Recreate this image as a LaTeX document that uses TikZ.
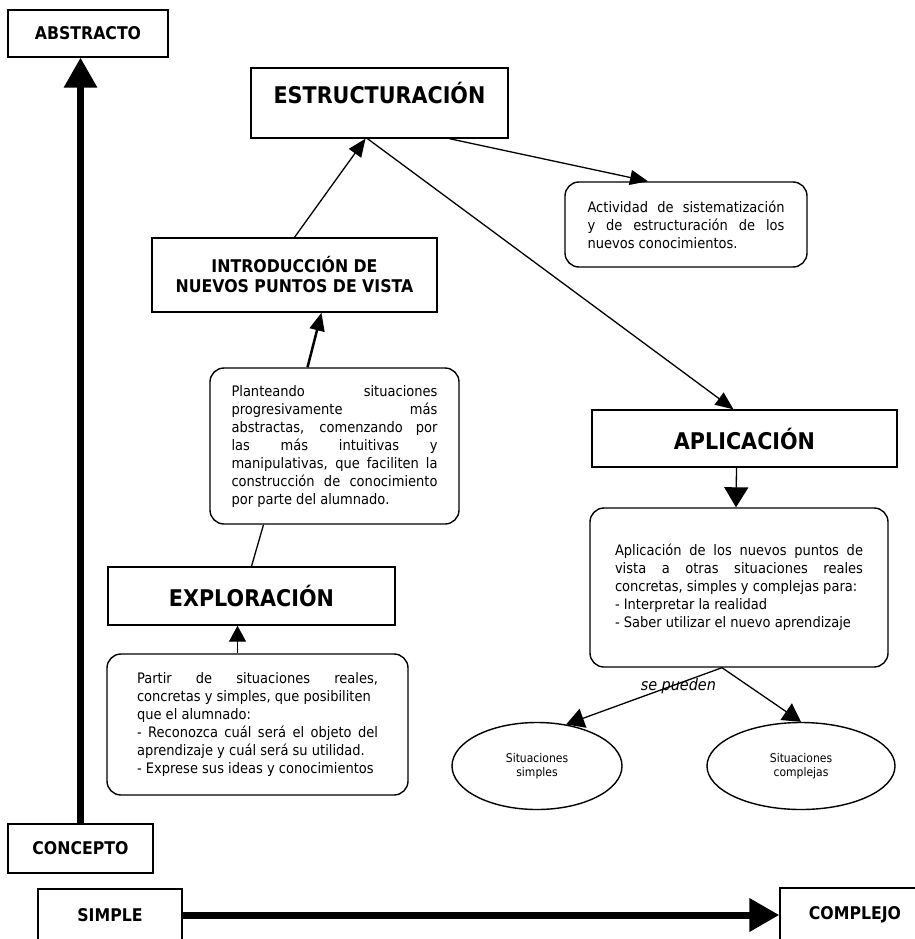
\documentclass[tikz,border=0pt]{standalone}
\usepackage{fontspec}
\setmainfont{DejaVu Sans}[FakeStretch=0.9]
\usetikzlibrary{arrows.meta,shapes.geometric}
\tolerance=10000
\hyphenpenalty=10000

\begin{document}
\begin{tikzpicture}[
    x=1pt, y=-1pt,
    every node/.style={inner sep=0pt},
    stage/.style={draw, line width=1.4pt, font=\bfseries\fontsize{23}{26}\selectfont},
    axisbox/.style={draw, line width=1.4pt, font=\bfseries\fontsize{17.5}{20}\selectfont},
    note/.style={draw, line width=1.4pt, rounded corners=14pt, align=justify, font=\fontsize{14.5}{18}\selectfont},
    oval/.style={draw, ellipse, line width=1.4pt, align=center, font=\fontsize{12}{13.5}\selectfont},
    arrow/.style={-{Triangle[length=18pt,width=15pt]}, line width=1.3pt},
    axis/.style={-{Triangle[length=30pt,width=32pt]}, line width=6.5pt}
  ]
  \useasboundingbox (0,0) rectangle (914,939);

  \node[axisbox, minimum width=160pt, minimum height=47pt] (abstracto) at (88,33.5) {ABSTRACTO};
  \node[axisbox, minimum width=145pt, minimum height=49pt] (concepto) at (80.5,848.5) {CONCEPTO};
  \node[axisbox, minimum width=144pt, minimum height=52pt] (simple) at (110,915) {SIMPLE};
  \node[axisbox, minimum width=150pt, minimum height=53pt] (complejo) at (855,914.5) {COMPLEJO};

  \node[stage, minimum width=257pt, minimum height=70pt, text height=12pt, text depth=12pt] (estruc) at (379.5,103) {ESTRUCTURACIÓN};
  \node[stage, align=center, minimum width=285pt, minimum height=74pt, font=\bfseries\fontsize{17.5}{20}\selectfont] (intro) at (294.5,275) {INTRODUCCIÓN DE\\NUEVOS PUNTOS DE VISTA};
  \node[stage, minimum width=287pt, minimum height=58pt] (explor) at (251.5,596) {EXPLORACIÓN};
  \node[stage, minimum width=305pt, minimum height=57pt] (aplic) at (744.5,438.5) {APLICACIÓN};

  \node[note, text width=197pt, minimum width=242pt, minimum height=85pt] (activ) at (686,224.5) {Actividad de sistematización\linebreak y de estructuración de los\linebreak nuevos conocimientos.};
  \node[note, text width=206pt, minimum width=249pt, minimum height=156pt] (plant) at (334.5,446) {Planteando situaciones\linebreak progresivamente más\linebreak abstractas, comenzando por\linebreak las más intuitivas y\linebreak manipulativas, que faciliten la\linebreak construcción de conocimiento\linebreak por parte del alumnado.};
  \node[note, text width=241pt, minimum width=301pt, minimum height=141pt] (partir) at (257.5,724.5) {Partir de situaciones reales,\linebreak concretas y simples, que posibiliten\\ que el alumnado:\\ - Reconozca cuál será el objeto del\linebreak aprendizaje y cuál será su utilidad.\\ - Exprese sus ideas y conocimientos};
  \node[note, text width=248pt, minimum width=298pt, minimum height=159pt] (aplbox) at (739,587.5) {Aplicación de los nuevos puntos de\linebreak vista a otras situaciones reales\linebreak concretas, simples y complejas para:\\ - Interpretar la realidad\\ - Saber utilizar el nuevo aprendizaje\par\vspace*{28pt}};

  \node[oval, minimum width=170pt, minimum height=87pt] (simples) at (537,766) {Situaciones\\simples};
  \node[oval, minimum width=188pt, minimum height=87pt] (complejas) at (801,766) {Situaciones\\complejas};

  \draw[axis] (concepto.north) -- (concepto.north |- abstracto.south);
  \draw[axis, line width=7pt] (simple.east) -- (simple.east -| complejo.west);

  \draw[arrow] (intro.north) -- ([xshift=-14pt]estruc.south);
  \draw[arrow] ([xshift=-12pt]estruc.south) -- ([xshift=-11pt]aplic.north);
  \draw[arrow] ([xshift=70pt]estruc.south) -- ([xshift=-38pt]activ.north);
  \draw[arrow, line width=2.5pt] ([xshift=-27pt]plant.north) -- ([xshift=27pt]intro.south);
  \draw[line width=1.3pt] (explor.north) -- ([xshift=-71pt]plant.south);
  \draw[arrow, -{Triangle[length=16pt,width=17pt]}] ([xshift=-20pt]partir.north) -- ([xshift=-14pt]explor.south);
  \draw[arrow, -{Triangle[length=20pt,width=24pt]}] ([xshift=-8pt]aplic.south) -- ([xshift=-3pt]aplbox.north);
  \draw[arrow, -{Triangle[length=18pt,width=20pt]}] ([xshift=-17pt]aplbox.south) -- node[pos=.28, yshift=-2pt, font=\itshape\fontsize{16}{18}\selectfont] (pueden) {se pueden} (simples.55);
  \draw[arrow, -{Triangle[length=18pt,width=20pt]}] ([xshift=-17pt]aplbox.south) -- (complejas.north);
\end{tikzpicture}
\end{document}
